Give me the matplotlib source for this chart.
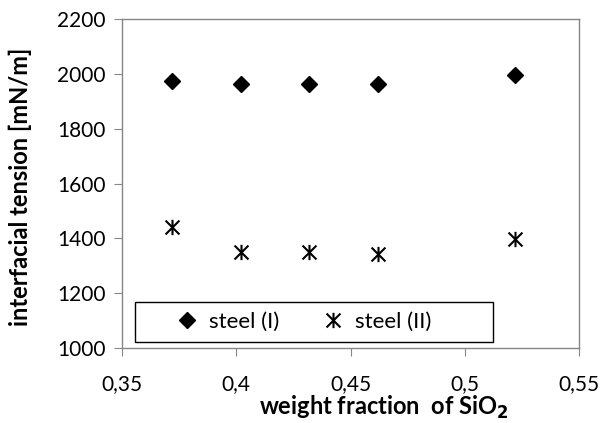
import matplotlib
matplotlib.use("Agg")
import matplotlib.pyplot as plt
from matplotlib.ticker import FuncFormatter
from matplotlib.patches import Rectangle
from matplotlib.path import Path

plt.rcParams['font.family'] = ['Lato', 'DejaVu Sans']

x_vals = [0.372, 0.402, 0.432, 0.462, 0.522]
steel_I = [1974, 1964, 1964, 1964, 1995]
steel_II = [1440, 1352, 1350, 1343, 1398]

xticks = [0.35, 0.4, 0.45, 0.5, 0.55]
yticks = [1000, 1200, 1400, 1600, 1800, 2000, 2200]

# asterisk marker: X plus vertical bar
star_path = Path([(-1, -1), (1, 1), (-1, 1), (1, -1), (0, -1.1), (0, 1.1)],
                 [Path.MOVETO, Path.LINETO, Path.MOVETO, Path.LINETO,
                  Path.MOVETO, Path.LINETO])

fig = plt.figure(figsize=(6.11, 4.23), dpi=100)
ax = fig.add_axes([0.1997, 0.1773, 0.7479, 0.7777])

ax.plot(x_vals, steel_I, linestyle='none', marker='D', markersize=8,
        color='black', label='steel (I)')
ax.plot(x_vals, steel_II, linestyle='none', marker=star_path, markersize=11,
        markeredgewidth=1.5, color='black', label='steel (II)')

ax.set_xlim(0.35, 0.55)
ax.set_ylim(1000, 2200)
ax.set_xticks(xticks)
ax.set_yticks(yticks)
ax.xaxis.set_major_formatter(FuncFormatter(lambda v, p: ('%g' % v).replace('.', ',')))

for s in ax.spines.values():
    s.set_color('#868686')
    s.set_linewidth(1.0)
ax.tick_params(axis='both', direction='out', length=6, color='#868686',
               labelsize=15)
ax.tick_params(axis='x', pad=13)
ax.tick_params(axis='y', pad=6)

ax.set_xlabel('weight fraction  of SiO$_\\mathbf{2}$', fontsize=17,
              fontweight='bold')
ax.xaxis.set_label_coords(0.573, -0.140)
ax.set_ylabel('interfacial tension [mN/m]', fontsize=17, fontweight='bold')
ax.yaxis.set_label_coords(-0.197, 0.49)

# legend frame (Excel-style wide box)
ax.add_patch(Rectangle((0.028, 0.018), 0.783, 0.122, transform=ax.transAxes,
                       facecolor='white', edgecolor='black', linewidth=1.0,
                       zorder=3))
leg = ax.legend(loc='center', bbox_to_anchor=(0.395, 0.079), ncol=2,
                fontsize=16, frameon=False, columnspacing=1.8,
                handletextpad=0.4, handlelength=1.2, borderaxespad=0.0)
leg.set_zorder(4)
fig.savefig('out.png', dpi=100)
